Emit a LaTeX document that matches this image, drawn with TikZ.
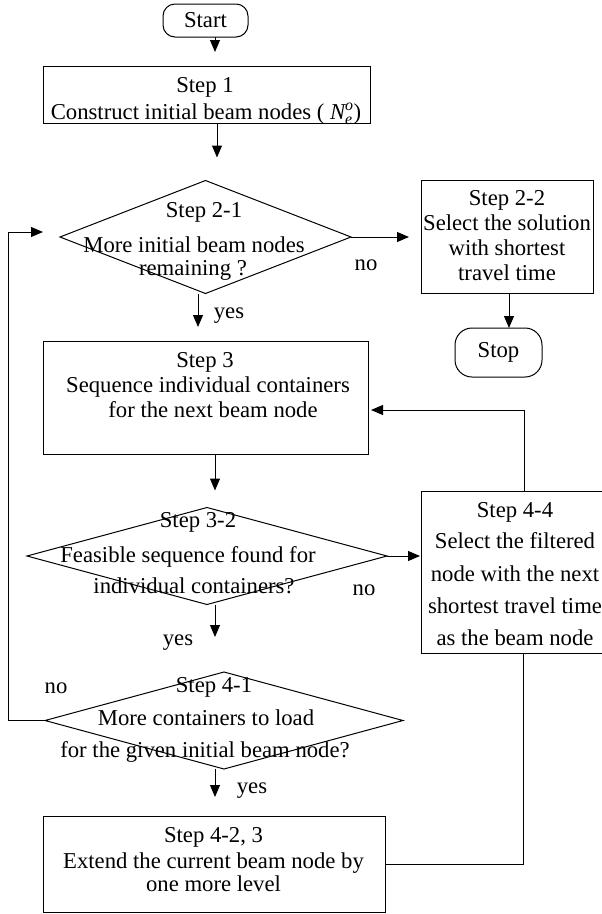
\documentclass[tikz,border=0pt]{standalone}
\usepackage{fontspec}
\usepackage{amstext}
\setmainfont{Liberation Serif}
\usetikzlibrary{shapes.geometric,arrows.meta,calc}
\newcommand{\flowfont}{\fontsize{22.7}{27}\selectfont}
\begin{document}
\begin{tikzpicture}[x=1pt,y=-1pt,
  line width=1pt,
  arr/.style={-{Triangle[length=12pt,width=10pt]}},
  box/.style={draw, rectangle, inner sep=0pt, outer sep=0pt},
  term/.style={draw, rectangle, rounded corners=#1, inner sep=0pt, outer sep=0pt, font=\flowfont},
  dec/.style={draw, diamond, inner sep=0pt, outer sep=0pt},
  txt/.style={inner sep=0pt, anchor=base, font=\flowfont},
  lbl/.style={inner sep=0pt, anchor=base, font=\flowfont}]

\useasboundingbox (0,0) rectangle (602,914);
\fill[white] (0,0) rectangle (602,914);
\clip (0,0) rectangle (602,914);

% shapes
\node[term=12pt, minimum width=85pt, minimum height=33pt] (start) at (205.5,20.5) {Start};
\node[box, minimum width=327pt, minimum height=57pt] (s1) at (206.5,94.5) {};
\node[dec, minimum width=291pt, minimum height=113pt] (d21) at (205.5,237) {};
\node[box, minimum width=172pt, minimum height=113pt] (d22) at (507,236.5) {};
\node[term=17pt, minimum width=87pt, minimum height=49pt] (stop) at (498.5,352.5) {Stop};
\node[box, minimum width=325pt, minimum height=113pt] (s3) at (205.5,397.5) {};
\node[dec, minimum width=360pt, minimum height=97pt] (d32) at (207,556) {};
\node[box, minimum width=188pt, minimum height=162pt] (s44) at (515,572) {};
\node[dec, minimum width=358pt, minimum height=97pt] (d41) at (224,720.5) {};
\node[box, minimum width=342pt, minimum height=96pt] (s423) at (214,864) {};
\coordinate (loopx) at (8,480);

% texts
\node[txt] (s1a) at (205,92) {Step 1};
\node[txt] (s1b) at (206,119) {Construct initial beam nodes ( $\textit{N}_{\textit{e}}^{\textit{o}}$)};

\node[txt] (d21a) at (204,217) {Step 2-1};
\node[txt] (d21b) at (194,252) {More initial beam nodes};
\node[txt] (d21c) at (193,275) {remaining ?};

\node[txt] (d22a) at (507,205) {Step 2-2};
\node[txt] (d22b) at (507,230) {Select the solution};
\node[txt] (d22c) at (507,255) {with shortest};
\node[txt] (d22d) at (507,280) {travel time};

\node[txt] (s3a) at (205,367) {Step 3};
\node[txt] (s3b) at (208,392) {Sequence individual containers};
\node[txt] (s3c) at (213,417) {for the next beam node};

\node[txt] (d32a) at (198,527) {Step 3-2};
\node[txt] (d32b) at (188,562) {Feasible sequence found for};
\node[txt] (d32c) at (194,593) {individual containers?};

\node[txt] (s44a) at (515,517) {Step 4-4};
\node[txt] (s44b) at (515,548) {Select the filtered};
\node[txt] (s44c) at (515,581) {node with the next};
\node[txt] (s44d) at (515,613) {shortest travel time};
\node[txt] (s44e) at (515,645) {as the beam node};

\node[txt] (d41a) at (214,692) {Step 4-1};
\node[txt] (d41b) at (206,725) {More containers to load};
\node[txt] (d41c) at (205,757) {for the given initial beam node?};

\node[txt] (s423a) at (213.5,842) {Step 4-2, 3};
\node[txt] (s423b) at (213.5,868) {Extend the current beam node by};
\node[txt] (s423c) at (213.5,891) {one more level};

% branch labels
\node[lbl] (no1) at (366,270) {no};
\node[lbl] (yes1) at (229,318) {yes};
\node[lbl] (no2) at (364,595) {no};
\node[lbl] (yes2) at (178,645) {yes};
\node[lbl] (no3) at (56,693) {no};
\node[lbl] (yes3) at (252,793) {yes};

% connectors
\draw[arr] ($(start.south)+(9.5,0)$) -- ($(s1.north)+(8.5,-14)$);
\draw[arr] ($(s1.south)+(10.5,0)$) -- ($(d21.north)+(11.5,-23)$);
\draw[arr] (d21.east) -- ($(d22.west |- d21.east)+(-12,0)$);
\draw[arr] ($(d22.south)+(2,0)$) -- ($(d22.south |- stop.north)+(2,0)$);
\draw[arr] ($(d21.south)+(-7.5,0)$) -- ($(s3.north)+(-7.5,-14)$);
\draw[arr] ($(s44.north)+(9,0)$) |- ($(s3.east)+(3,12.5)$);
\draw[arr] ($(s3.south)+(9.5,0)$) -- ($(d32.north)+(8,-17)$);
\draw[arr] (d32.east) -- ($(s44.west |- d32.east)+(-1,0)$);
\draw[arr] ($(d32.south)+(8,0)$) -- ($(d41.north)+(-9,-35)$);
\draw[arr] (d41.west) -- (d41.west -| loopx) |- ($(d21.west)+(-17,-5)$);
\draw[arr] ($(d41.south)+(-9,0)$) -- ($(s423.north)+(1,-19)$);
\draw (s423.east) -| ($(s44.south)+(8,0)$);
\end{tikzpicture}
\end{document}
